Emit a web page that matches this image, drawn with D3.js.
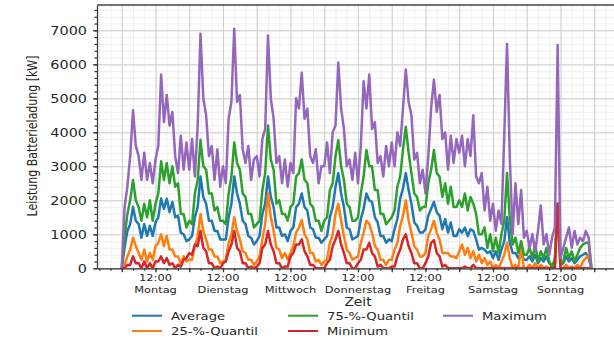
<!DOCTYPE html>
<html>
<head>
<meta charset="utf-8">
<script src="https://cdn.jsdelivr.net/npm/d3@7"></script>
<style>
  body { margin: 0; background: #fff; }
  text { font-family: "DejaVu Sans", sans-serif; fill: #262626; }
</style>
</head>
<body>
<svg id="chart" width="614" height="338"></svg>
<script>
// Week of hourly values (Mon 00:00 .. Sun 23:00), kW
const DAYS = ['Montag', 'Dienstag', 'Mittwoch', 'Donnerstag', 'Freitag', 'Samstag', 'Sonntag'];
const TICK_TIME = '12:00';

const average = [
  0, 600, 1100, 1300, 1800, 1400, 1300, 900, 1300, 950, 1250, 950, 1350, 1500, 2050, 1750, 2050, 1650, 1950, 1500, 1550, 1050, 1000, 800,
  850, 950, 1500, 1800, 2700, 2100, 1900, 1400, 1400, 1100, 1100, 850, 850, 850, 1500, 1900, 2700, 2200, 1900, 1400, 1300, 950, 900, 700,
  800, 950, 1600, 1900, 2700, 2100, 1800, 1200, 1200, 950, 1000, 800, 1100, 1200, 1800, 1900, 2200, 1800, 1700, 1200, 1150, 900, 900, 750,
  850, 950, 1500, 1800, 2400, 2800, 2200, 1800, 1200, 1150, 850, 900, 950, 1450, 1750, 2200, 2000, 1950, 1500, 1350, 950, 950, 750, 850,
  800, 1150, 1450, 2050, 2350, 2800, 2300, 1900, 1350, 1250, 1050, 1050, 1150, 1550, 1750, 1950, 1650, 1550, 1150, 1450, 1050, 1350, 950, 950,
  1150, 1050, 1200, 950, 1150, 1100, 850, 550, 600, 550, 450, 500, 300, 500, 250, 550, 800, 1500, 750, 450, 450, 300, 450, 250,
  250, 350, 200, 400, 150, 300, 200, 350, 150, 100, 200, 1900, 100, 150, 350, 200, 300, 150, 250, 350, 400, 450, 300, 0
];

const quantile25 = [
  0, 100, 350, 550, 900, 650, 450, 250, 550, 200, 450, 250, 650, 750, 1000, 650, 950, 550, 550, 350, 350, 150, 350, 200,
  250, 250, 650, 950, 1600, 1100, 850, 550, 550, 350, 350, 150, 200, 250, 750, 1000, 1500, 1100, 850, 500, 450, 250, 250, 100,
  200, 350, 850, 1300, 2200, 1500, 1100, 600, 550, 300, 450, 250, 450, 650, 1050, 1200, 1420, 1000, 850, 450, 450, 200, 250, 100,
  200, 250, 750, 1000, 1600, 1900, 1400, 950, 550, 450, 250, 300, 350, 750, 1050, 1400, 1300, 1050, 650, 550, 250, 250, 100, 250,
  250, 550, 750, 1250, 1550, 2000, 1400, 1050, 650, 550, 350, 350, 450, 950, 1150, 1400, 1050, 850, 450, 450, 450, 350, 350, 300,
  500, 700, 400, 600, 300, 500, 200, 400, 150, 300, 100, 200, 0, 100, 0, 200, 400, 750, 300, 0, 100, 0, 600, 0,
  0, 100, 0, 150, 0, 100, 0, 50, 0, 0, 0, 1900, 0, 0, 100, 0, 50, 0, 100, 0, 200, 300, 400, 0
];

const quantile75 = [
  0, 900, 1600, 2000, 2600, 2000, 1800, 1400, 1900, 1500, 2000, 1400, 1900, 2200, 3150, 2600, 3100, 2500, 3000, 2400, 2500, 1600, 1600, 1200,
  1400, 1300, 2200, 2600, 3780, 3000, 2900, 2200, 2200, 1700, 1800, 1400, 1400, 1300, 2200, 2700, 3700, 3100, 2900, 2200, 2100, 1600, 1600, 1200,
  1300, 1400, 2300, 2800, 4200, 3200, 2900, 1900, 2000, 1600, 1600, 1400, 1800, 1900, 2700, 2800, 3200, 2600, 2500, 1900, 1800, 1400, 1400, 1100,
  1400, 1500, 2300, 2500, 3300, 3770, 3000, 2600, 1900, 1800, 1400, 1400, 1500, 2200, 2700, 3480, 3000, 3000, 2300, 2300, 1600, 1600, 1300, 1400,
  1500, 1700, 2400, 2700, 3500, 4160, 3400, 2800, 2200, 2100, 1700, 1800, 1800, 2500, 2900, 3480, 2800, 2700, 2100, 2500, 1900, 2400, 1800, 1800,
  2000, 1800, 2200, 1700, 2100, 1900, 1600, 1000, 1000, 1200, 600, 1000, 500, 900, 450, 1000, 1400, 2800, 1400, 700, 900, 450, 800, 400,
  400, 600, 300, 700, 200, 500, 300, 600, 200, 0, 300, 1900, 100, 200, 600, 300, 500, 200, 400, 600, 700, 750, 750, 0
];

const minimum = [
  0, 0, 100, 100, 350, 150, 150, 0, 200, 0, 150, 0, 200, 200, 350, 150, 300, 100, 150, 0, 100, 50, 250, 300,
  450, 400, 700, 650, 1100, 600, 500, 150, 150, 0, 50, 0, 150, 200, 500, 700, 1100, 600, 500, 150, 150, 0, 50, 0,
  50, 150, 600, 700, 1100, 700, 500, 150, 150, 0, 50, 50, 350, 450, 700, 700, 850, 500, 350, 100, 100, 0, 0, 0,
  0, 150, 250, 650, 850, 1100, 700, 450, 150, 150, 0, 0, 150, 250, 550, 550, 750, 450, 350, 50, 100, 0, 0, 0,
  50, 50, 350, 550, 850, 1000, 650, 450, 150, 150, 0, 0, 150, 350, 750, 830, 450, 350, 50, 100, 0, 0, 0, 0,
  0, 0, 50, 0, 0, 100, 0, 0, 0, 0, 0, 0, 0, 0, 0, 0, 0, 0, 0, 0, 0, 0, 0, 0,
  0, 0, 0, 0, 0, 0, 0, 0, 0, 0, 0, 1900, 0, 0, 0, 0, 0, 0, 0, 0, 0, 0, 0, 0
];

const maximum = [
  0, 1800, 2400, 3300, 4650, 3600, 3300, 2600, 3400, 2600, 3100, 2500, 3200, 3600, 5700, 4300, 5100, 4200, 4600, 3300, 2800, 3900, 2900, 3700,
  2900, 3800, 2700, 4200, 6900, 5000, 4500, 3300, 3600, 2600, 3500, 2400, 3000, 2500, 4400, 4900, 7050, 4900, 5100, 3500, 3100, 3600, 2600, 3200,
  3300, 2700, 3800, 4100, 6850, 5000, 4400, 3100, 3300, 2500, 3200, 2400, 3100, 2800, 5000, 4700, 5750, 4400, 4700, 3300, 3100, 3500, 2500, 3000,
  3000, 3700, 2800, 4000, 4200, 6050, 4700, 4100, 3000, 3200, 2600, 3400, 2500, 3600, 5500, 4700, 5700, 4100, 4300, 3100, 3300, 2700, 3600, 3000,
  3700, 3000, 4000, 3600, 4700, 5850, 4900, 4500, 3200, 3400, 2500, 2900, 2200, 3300, 4700, 5550, 4600, 5100, 3800, 4000, 2900, 3900, 3100, 3800,
  3400, 3900, 3000, 3800, 3300, 4500, 2700, 2500, 2800, 1700, 2400, 1400, 1900, 1100, 1700, 1300, 3900, 6600, 3200, 1000, 2500, 1300, 2300, 900,
  1100, 600, 1000, 500, 1100, 1850, 700, 1000, 400, 900, 1200, 6570, 300, 600, 900, 1200, 600, 1100, 700, 900, 800, 1100, 900, 0
];

const SERIES = [
  {name: 'Average', values: average, color: '#1f77b4'},
  {name: '25-%-Quantil', values: quantile25, color: '#ff7f0e'},
  {name: '75-%-Quantil', values: quantile75, color: '#2ca02c'},
  {name: 'Minimum', values: minimum, color: '#d62728'},
  {name: 'Maximum', values: maximum, color: '#9467bd'},
];

// picture looks stretched sideways, so text gets the same squash
const SX = 1.2;

const svg = d3.select('#chart');
const plotLeft = 97, plotRight = 618, plotTop = 5, plotBottom = 268.3;

const x = d3.scaleLinear().domain([-8.8, 176.45]).range([plotLeft, plotRight]);
const y = d3.scaleLinear().domain([0, 7745]).range([plotBottom, plotTop]);

const hourTicks = (step) => d3.range(Math.ceil(-8.8 / step) * step, 176.45, step);

// grid: minor first, then major
svg.append('g')
  .attr('transform', `translate(0,${plotBottom})`)
  .call(d3.axisBottom(x).tickValues(hourTicks(4)).tickSize(-(plotBottom - plotTop)).tickFormat(''))
  .call((g) => g.select('.domain').remove())
  .call((g) => g.selectAll('line').attr('stroke', '#ebebeb').attr('stroke-width', 0.8));
svg.append('g')
  .attr('transform', `translate(${plotLeft},0)`)
  .call(d3.axisLeft(y).tickValues(d3.range(0, 7745, 200)).tickSize(-(plotRight - plotLeft)).tickFormat(''))
  .call((g) => g.select('.domain').remove())
  .call((g) => g.selectAll('line').attr('stroke', '#ebebeb').attr('stroke-width', 0.8));
svg.append('g')
  .attr('transform', `translate(0,${plotBottom})`)
  .call(d3.axisBottom(x).tickValues(hourTicks(12)).tickSize(-(plotBottom - plotTop)).tickFormat(''))
  .call((g) => g.select('.domain').remove())
  .call((g) => g.selectAll('line').attr('stroke', '#cccccc').attr('stroke-width', 0.9));
svg.append('g')
  .attr('transform', `translate(${plotLeft},0)`)
  .call(d3.axisLeft(y).tickValues(d3.range(0, 7001, 1000)).tickSize(-(plotRight - plotLeft)).tickFormat(''))
  .call((g) => g.select('.domain').remove())
  .call((g) => g.selectAll('line').attr('stroke', '#cccccc').attr('stroke-width', 0.9));

// lines
svg.append('clipPath').attr('id', 'plot-clip')
  .append('rect').attr('x', plotLeft).attr('y', plotTop).attr('width', plotRight - plotLeft).attr('height', plotBottom - plotTop);

const line = d3.line()
  .x((d, i) => x(i))
  .y((d) => y(d));

svg.append('g')
  .attr('clip-path', 'url(#plot-clip)')
  .selectAll('path')
  .data(SERIES)
  .join('path')
    .attr('fill', 'none')
    .attr('stroke', (d) => d.color)
    .attr('stroke-width', 2.5)
    .attr('stroke-linejoin', 'round')
    .attr('d', (d) => line(d.values));

// frame
svg.append('line').attr('x1', plotLeft).attr('x2', plotRight).attr('y1', plotTop).attr('y2', plotTop)
  .attr('stroke', '#444').attr('stroke-width', 1.3);

// axes with ticks
const styleAxis = (g) => g.selectAll('line, path').attr('stroke', '#333').attr('stroke-width', 1.2);

svg.append('g')
  .attr('transform', `translate(0,${plotBottom})`)
  .call(d3.axisBottom(x).tickValues(hourTicks(4)).tickSize(2.5).tickSizeOuter(0).tickFormat(''))
  .call(styleAxis);
svg.append('g')
  .attr('transform', `translate(0,${plotBottom})`)
  .call(d3.axisBottom(x).tickValues(hourTicks(12)).tickSize(4).tickSizeOuter(0).tickFormat(''))
  .call(styleAxis)
  .call((g) => g.select('.domain').remove());
svg.append('g')
  .attr('transform', `translate(${plotLeft},0)`)
  .call(d3.axisLeft(y).tickValues(d3.range(0, 7745, 200)).tickSize(2.5).tickSizeOuter(0).tickFormat(''))
  .call(styleAxis);
svg.append('g')
  .attr('transform', `translate(${plotLeft},0)`)
  .call(d3.axisLeft(y).tickValues(d3.range(0, 7001, 1000)).tickSize(4).tickSizeOuter(0).tickFormat(''))
  .call(styleAxis)
  .call((g) => g.select('.domain').remove());

function stretchedText(x0, y0, str, size, anchor, rotate) {
  return svg.append('text')
    .attr('transform', `translate(${x0},${y0}) scale(${SX},1)` + (rotate ? ` rotate(${rotate})` : ''))
    .attr('font-size', size)
    .attr('text-anchor', anchor)
    .text(str);
}

// y tick labels
y.ticks(8).filter((v) => v <= 7000).forEach((v) => {
  stretchedText(87, y(v) + 4.2, String(v), 12, 'end');
});

// x tick labels: 12:00 + day
DAYS.forEach((day, i) => {
  const hx = x(12 + 24 * i);
  stretchedText(hx, 281.3, TICK_TIME, 9.5, 'middle');
  stretchedText(hx, 292.6, day, 9.5, 'middle');
});

// axis titles
stretchedText(358, 306, 'Zeit', 11.5, 'middle');
stretchedText(37, 136, 'Leistung Batterieladung [kW]', 11, 'middle', -90);

// legend, 3 columns filled column by column
const legendCols = [132, 288, 443];
const legendRows = [315.7, 331];
SERIES.forEach((s, i) => {
  const lx = legendCols[Math.floor(i / 2)];
  const ly = legendRows[i % 2];
  svg.append('line')
    .attr('x1', lx).attr('x2', lx + 30).attr('y1', ly).attr('y2', ly)
    .attr('stroke', s.color).attr('stroke-width', 2);
  stretchedText(lx + 39, ly + 4, s.name, 11, 'start');
});
</script>
</body>
</html>
